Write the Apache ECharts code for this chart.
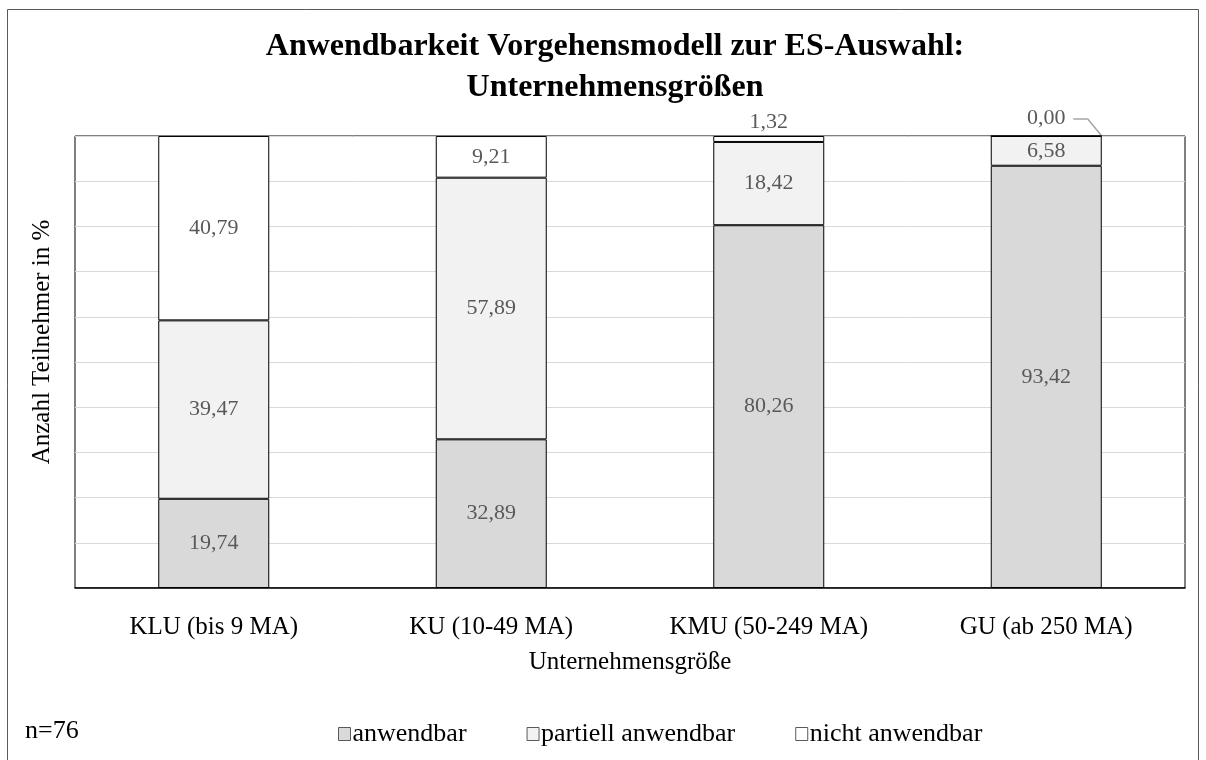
<!DOCTYPE html>
<html>
<head>
<meta charset="utf-8">
<script src="https://cdn.jsdelivr.net/npm/echarts@6/dist/echarts.min.js"></script>
<style>
    html, body { margin: 0; padding: 0; background: #fff; }
    #chart { width: 1206px; height: 760px; }
</style>
</head>
<body>
<div id="chart"></div>
<script>
    // Daten
    const categories = ['KLU (bis 9 MA)', 'KU (10-49 MA)', 'KMU (50-249 MA)', 'GU (ab 250 MA)']
    const anwendbar = [19.74, 32.89, 80.26, 93.42]
    const partiell = [39.47, 57.89, 18.42, 6.58]
    const nichtAnwendbar = [40.79, 9.21, 1.32, 0.00]

    const FONT = '"Liberation Serif", "Times New Roman", serif'
    const fmt = p => p.value.toFixed(2).replace('.', ',')

    let myChart = echarts.init(document.getElementById('chart'))

    function barSeries(name, data, color) {
        return {
            name: name,
            type: 'bar',
            stack: 'total',
            barWidth: '40%',
            data: data,
            itemStyle: {color: color, borderColor: '#000', borderWidth: 1},
            label: {
                show: true,
                position: 'inside',
                color: '#595959',
                fontFamily: FONT,
                fontSize: 22,
                formatter: fmt
            }
        }
    }

    // oberste Serie: kleine Werte ausserhalb des Balkens
    let topData = nichtAnwendbar.map(v => {
        if (v < 3) {
            return {value: v, label: {position: 'top', distance: v === 0 ? 6 : 3}}
        }
        return v
    })

    let staticGraphics = [
        {
            type: 'rect',
            shape: {x: 7.5, y: 9.5, width: 1191, height: 800},
            style: {fill: 'none', stroke: '#595959', lineWidth: 1},
            silent: true
        },
        {
            type: 'text',
            left: 25,
            top: 718,
            style: {text: 'n=76', font: '26px ' + FONT, fill: '#000'}
        }
    ]

    myChart.setOption({
        animation: false,
        title: {
            text: 'Anwendbarkeit Vorgehensmodell zur ES-Auswahl:\nUnternehmensgrößen',
            left: 610,
            textAlign: 'center',
            top: 21,
            textStyle: {
                fontFamily: FONT,
                fontWeight: 'bold',
                fontSize: 32,
                lineHeight: 41,
                color: '#000'
            }
        },
        graphic: staticGraphics,
        legend: {
            left: 333,
            top: 716,
            itemGap: 60,
            itemWidth: 12,
            itemHeight: 13,
            icon: 'rect',
            itemStyle: {borderColor: '#595959', borderWidth: 1},
            textStyle: {fontFamily: FONT, fontSize: 26, color: '#000', padding: [0, 0, 0, -3]},
            data: ['anwendbar', 'partiell anwendbar', 'nicht anwendbar']
        },
        grid: {
            left: 75,
            right: 21,
            top: 136,
            bottom: 172,
            show: true,
            borderColor: '#000',
            borderWidth: 1
        },
        xAxis: {
            type: 'category',
            data: categories,
            name: 'Unternehmensgröße',
            nameLocation: 'middle',
            nameGap: 62,
            nameTextStyle: {fontFamily: FONT, fontSize: 25, color: '#000'},
            axisLine: {lineStyle: {color: '#000', width: 1.5}},
            axisTick: {show: false},
            axisLabel: {fontFamily: FONT, fontSize: 25, color: '#000', margin: 27}
        },
        yAxis: {
            type: 'value',
            min: 0,
            max: 100,
            interval: 10,
            name: 'Anzahl Teilnehmer in %',
            nameLocation: 'middle',
            nameGap: 20,
            nameTextStyle: {fontFamily: FONT, fontSize: 25, color: '#000', padding: [0, 0, 0, 40]},
            axisLabel: {show: false},
            axisTick: {show: false},
            axisLine: {show: false},
            splitLine: {lineStyle: {color: '#d9d9d9', width: 1}}
        },
        series: [
            barSeries('anwendbar', anwendbar, '#d9d9d9'),
            barSeries('partiell anwendbar', partiell, '#f2f2f2'),
            barSeries('nicht anwendbar', topData, '#ffffff')
        ]
    })

    // Fuehrungslinie fuer 0,00 an die rechte obere Balkenecke
    let last = categories.length - 1
    let pTop = myChart.convertToPixel({gridIndex: 0}, [last, 100])
    let pPrev = myChart.convertToPixel({gridIndex: 0}, [last - 1, 100])
    let halfBar = (pTop[0] - pPrev[0]) * 0.2
    let labelY = pTop[1] - 17
    myChart.setOption({
        graphic: staticGraphics.concat([{
            type: 'polyline',
            shape: {points: [
                [pTop[0] + 27, labelY],
                [pTop[0] + halfBar - 14, labelY],
                [pTop[0] + halfBar, pTop[1]]
            ]},
            style: {fill: 'none', stroke: '#a6a6a6', lineWidth: 1.5},
            silent: true
        }])
    })
</script>
</body>
</html>
